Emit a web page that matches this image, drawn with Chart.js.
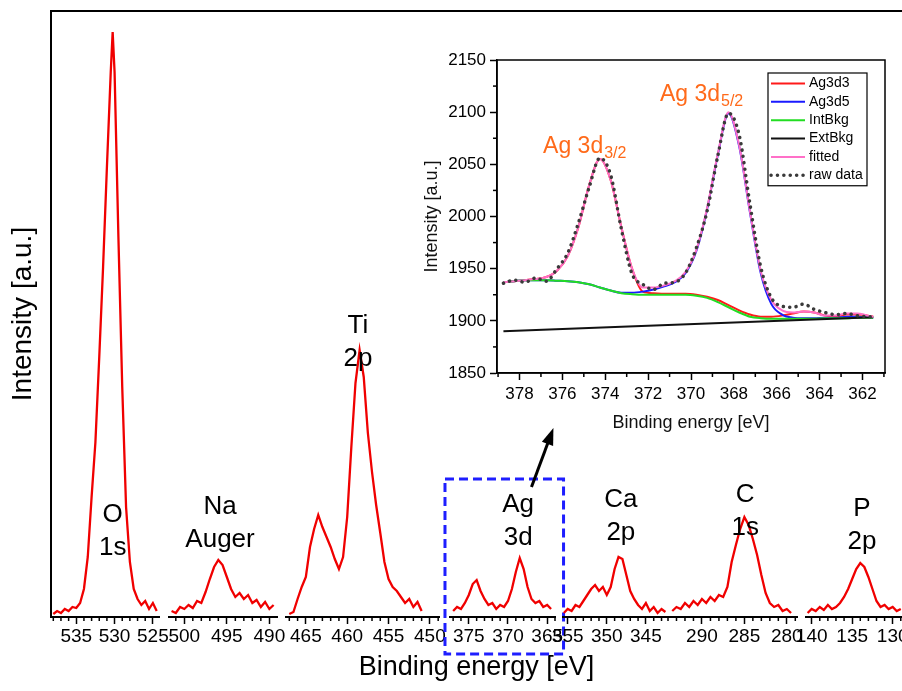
<!DOCTYPE html>
<html>
<head>
<meta charset="utf-8">
<script src="https://cdn.jsdelivr.net/npm/chart.js@4.4.0/dist/chart.umd.min.js"></script>
<style>
  html, body { margin: 0; padding: 0; background: #fff; }
  #wrap { position: relative; width: 902px; height: 691px; overflow: hidden; background: #fff; }
  #wrap canvas { position: absolute; left: 0; top: 0; }
</style>
</head>
<body>
<div id="wrap"></div>
<script>
// survey spectrum, heights above each baseline (arb. units)
const o1sEnergy = [538, 537.5, 537, 536.5, 536, 535.5, 535, 534.5, 534, 533.5, 533, 532.5, 532, 531.5, 531, 530.5, 530.25, 530, 529.5, 529, 528.5, 528, 527.5, 527, 526.5, 526, 525.5, 525, 524.5];
const o1sCounts = [3, 6, 4, 8, 6, 10, 9, 14, 28, 60, 120, 175, 260, 350, 450, 545, 585, 545, 380, 230, 110, 55, 28, 18, 12, 16, 8, 14, 6];

const naEnergy = [501.5, 501, 500.5, 500, 499.5, 499, 498.5, 498, 497.5, 497, 496.5, 496, 495.5, 495, 494.5, 494, 493.5, 493, 492.5, 492, 491.5, 491, 490.5, 490, 489.5];
const naCounts = [6, 4, 10, 8, 12, 9, 16, 14, 25, 38, 50, 57, 52, 40, 28, 20, 24, 18, 22, 14, 17, 10, 15, 8, 12];

const tiEnergy = [467, 466.5, 466, 465.5, 465, 464.5, 464, 463.5, 463, 462.5, 462, 461.5, 461, 460.5, 460, 459.5, 459, 458.5, 458, 457.5, 457, 456.5, 456, 455.5, 455, 454.5, 454, 453.5, 453, 452.5, 452, 451.5, 451];
const tiCounts = [3, 5, 18, 30, 40, 70, 88, 102, 90, 80, 70, 58, 48, 60, 100, 170, 234, 267, 240, 184, 145, 112, 84, 55, 38, 30, 26, 20, 14, 18, 10, 15, 6];

const agEnergy = [377, 376.5, 376, 375.5, 375, 374.5, 374, 373.5, 373, 372.5, 372, 371.5, 371, 370.5, 370, 369.5, 369, 368.5, 368, 367.5, 367, 366.5, 366, 365.5, 365, 364.5];
const agCounts = [6, 10, 8, 14, 22, 33, 37, 26, 18, 12, 14, 8, 12, 10, 16, 28, 45, 59, 48, 30, 18, 14, 16, 10, 12, 8];

const caEnergy = [355.5, 355, 354.5, 354, 353.5, 353, 352.5, 352, 351.5, 351, 350.5, 350, 349.5, 349, 348.5, 348, 347.5, 347, 346.5, 346, 345.5, 345, 344.5, 344, 343.5, 343, 342.5];
const caCounts = [4, 8, 6, 12, 10, 16, 22, 28, 32, 26, 30, 22, 30, 48, 60, 58, 42, 26, 18, 12, 8, 14, 6, 10, 4, 8, 5];

const cEnergy = [293.5, 293, 292.5, 292, 291.5, 291, 290.5, 290, 289.5, 289, 288.5, 288, 287.5, 287, 286.5, 286, 285.5, 285, 284.5, 284, 283.5, 283, 282.5, 282, 281.5, 281, 280.5, 280, 279.5];
const cCounts = [6, 10, 8, 14, 10, 16, 12, 18, 14, 20, 16, 22, 20, 30, 55, 72, 88, 100, 92, 78, 62, 42, 24, 14, 10, 12, 6, 8, 4];

const pEnergy = [140.5, 140, 139.5, 139, 138.5, 138, 137.5, 137, 136.5, 136, 135.5, 135, 134.5, 134, 133.5, 133, 132.5, 132, 131.5, 131, 130.5, 130, 129.5, 129];
const pCounts = [4, 8, 6, 10, 7, 12, 8, 10, 14, 20, 28, 38, 48, 54, 50, 40, 28, 16, 10, 12, 8, 10, 6, 8];

// inset: Ag 3d fit
const insetEnergy = [378.75, 378.25, 377.75, 377.25, 376.75, 376.25, 375.75, 375.25, 374.75, 374.25, 373.75, 373.25, 372.75, 372.25, 371.75, 371.25, 370.75, 370.25, 369.75, 369.25, 368.75, 368.25, 367.75, 367.25, 366.75, 366.25, 365.75, 365.25, 364.75, 364.25, 363.75, 363.25, 362.75, 362.25, 361.75, 361.5];
const ag3d3 = [1937, 1938, 1939, 1940, 1942, 1948, 1962, 1990, 2030, 2055, 2035, 1990, 1950, 1928, 1926.5, 1926, 1926, 1926, 1925, 1923, 1920, 1915, 1910, 1906, 1904, 1904, 1905, 1907, 1909, 1908, 1905, 1904, 1906, 1906, 1905, 1904];
const ag3d5 = [1937, 1938, 1939, 1939, 1939, 1938.5, 1938, 1937, 1935, 1932, 1929, 1927, 1927, 1928, 1930, 1933, 1937, 1946, 1967, 2007, 2059, 2099, 2067, 2004, 1946, 1916, 1906, 1903, 1902.5, 1902.5, 1903, 1903, 1904, 1904, 1903.5, 1903];
const intBkg = [1937, 1938, 1939, 1939, 1939, 1938.5, 1938, 1937, 1935, 1932, 1929, 1926.5, 1925.5, 1925, 1925, 1925, 1925, 1925, 1924, 1922, 1918, 1913, 1908, 1904, 1902.5, 1902, 1902, 1902, 1902, 1902, 1902.5, 1902.5, 1902.5, 1903, 1903, 1903];
const fitted = [1937, 1938, 1939, 1940, 1942, 1948, 1962, 1990, 2030, 2055, 2035, 1990, 1950, 1932, 1932, 1934, 1938, 1947, 1968, 2008, 2060, 2100, 2068, 2005, 1948, 1920, 1910, 1908, 1909, 1908, 1905, 1905, 1907, 1907, 1905, 1904];
const rawData = [1936, 1939, 1937, 1941, 1938, 1950, 1965, 1994, 2028, 2056, 2040, 1988, 1945, 1935, 1930, 1936, 1937, 1946, 1970, 2005, 2058, 2099, 2078, 2012, 1952, 1922, 1914, 1913, 1916, 1911, 1908, 1906, 1907, 1905, 1904, 1904];
const extEnergy = [378.75, 361.5];
const extBkg = [1890, 1903.5];

const FONT = "'Liberation Sans', Arial, sans-serif";
const W = 902, H = 691;
Chart.defaults.font.family = FONT;
Chart.defaults.color = '#000';
Chart.defaults.animation = false;

const wrap = document.getElementById('wrap');
function addCanvas() {
  const c = document.createElement('canvas');
  c.width = W;
  c.height = H;
  wrap.appendChild(c);
  return c.getContext('2d');
}

const toPoints = (xs, ys) => xs.map((x, i) => ({ x: x, y: ys[i] }));

// short ticks between the labelled ones
const minorTicks = {
  id: 'minorTicks',
  afterDraw(chart, args, opts) {
    const ctx = chart.ctx;
    ctx.save();
    ctx.strokeStyle = '#000';
    ctx.lineWidth = 1.5;
    Object.keys(opts.axes || {}).forEach(id => {
      const s = chart.scales[id];
      const { step, major, len } = opts.axes[id];
      const lo = Math.min(s.min, s.max), hi = Math.max(s.min, s.max);
      for (let v = Math.ceil(lo / step) * step; v <= hi; v += step) {
        if (Math.abs(v / major - Math.round(v / major)) < 1e-6) continue;
        const p = s.getPixelForValue(v);
        ctx.beginPath();
        if (s.isHorizontal()) { ctx.moveTo(p, s.top); ctx.lineTo(p, s.top + len); }
        else { ctx.moveTo(s.right - len, p); ctx.lineTo(s.right, p); }
        ctx.stroke();
      }
    });
    ctx.restore();
  }
};

const peakLabel = {
  id: 'peakLabel',
  afterDatasetsDraw(chart, args, opts) {
    const { ctx, scales: { x, y } } = chart;
    const px = x.getPixelForValue(opts.at[0]), py = y.getPixelForValue(opts.at[1]);
    ctx.save();
    ctx.font = '26px ' + FONT;
    ctx.fillStyle = '#000';
    ctx.textAlign = 'center';
    ctx.textBaseline = 'middle';
    opts.lines.forEach((t, i) => ctx.fillText(t, px, py + i * 33));
    ctx.restore();
  }
};

// dashed box round Ag 3d and the arrow to the inset
const callout = {
  id: 'callout',
  afterDraw(chart, args, opts) {
    const { ctx, scales: { x, y } } = chart;
    const l = x.getPixelForValue(opts.box[0]), r = x.getPixelForValue(opts.box[1]);
    const t = y.getPixelForValue(opts.box[2]), b = y.getPixelForValue(opts.box[3]);
    ctx.save();
    ctx.strokeStyle = '#1e1eff';
    ctx.lineWidth = 3;
    ctx.setLineDash([9, 5]);
    ctx.strokeRect(l, t, r - l, b - t);
    ctx.setLineDash([]);
    const x1 = x.getPixelForValue(opts.arrow[0]), y1 = y.getPixelForValue(opts.arrow[1]);
    const x2 = x.getPixelForValue(opts.arrow[2]), y2 = y.getPixelForValue(opts.arrow[3]);
    const ang = Math.atan2(y2 - y1, x2 - x1);
    ctx.strokeStyle = '#000';
    ctx.fillStyle = '#000';
    ctx.lineWidth = 3;
    ctx.beginPath();
    ctx.moveTo(x1, y1);
    ctx.lineTo(x2 - 12 * Math.cos(ang), y2 - 12 * Math.sin(ang));
    ctx.stroke();
    ctx.beginPath();
    ctx.moveTo(x2, y2);
    ctx.lineTo(x2 - 17 * Math.cos(ang) + 6 * Math.sin(ang), y2 - 17 * Math.sin(ang) - 6 * Math.cos(ang));
    ctx.lineTo(x2 - 17 * Math.cos(ang) - 6 * Math.sin(ang), y2 - 17 * Math.sin(ang) + 6 * Math.cos(ang));
    ctx.closePath();
    ctx.fill();
    ctx.restore();
  }
};

const boxFrame = {
  id: 'boxFrame',
  afterDatasetsDraw(chart) {
    const { ctx, chartArea: a } = chart;
    ctx.save();
    ctx.strokeStyle = '#000';
    ctx.lineWidth = 1.5;
    ctx.strokeRect(a.left, a.top, a.right - a.left, a.bottom - a.top);
    ctx.restore();
  }
};

const insetLegend = {
  id: 'insetLegend',
  afterDraw(chart, args, opts) {
    const { ctx, chartArea: a } = chart;
    const sets = chart.data.datasets;
    const x0 = a.right - opts.right - opts.width, y0 = a.top + opts.top;
    const h = (sets.length - 1) * opts.row + 21;
    ctx.save();
    ctx.fillStyle = '#fff';
    ctx.fillRect(x0, y0, opts.width, h);
    ctx.strokeStyle = '#000';
    ctx.lineWidth = 1.2;
    ctx.strokeRect(x0, y0, opts.width, h);
    ctx.font = '14px ' + FONT;
    ctx.textBaseline = 'middle';
    sets.forEach((d, i) => {
      const yy = y0 + 10.5 + i * opts.row;
      ctx.strokeStyle = d.borderColor;
      ctx.lineWidth = d.borderWidth;
      ctx.lineCap = d.borderCapStyle || 'butt';
      ctx.setLineDash(d.borderDash || []);
      ctx.beginPath();
      ctx.moveTo(x0 + 3, yy);
      ctx.lineTo(x0 + 37, yy);
      ctx.stroke();
      ctx.setLineDash([]);
      ctx.fillStyle = '#000';
      ctx.fillText(d.label, x0 + 41, yy);
    });
    ctx.restore();
  }
};

const insetNotes = {
  id: 'insetNotes',
  afterDatasetsDraw(chart, args, opts) {
    const { ctx, scales: { x, y } } = chart;
    ctx.save();
    ctx.fillStyle = '#ff6a1a';
    ctx.textAlign = 'left';
    ctx.textBaseline = 'alphabetic';
    opts.items.forEach(n => {
      const px = x.getPixelForValue(n.at[0]), py = y.getPixelForValue(n.at[1]);
      ctx.font = '23px ' + FONT;
      ctx.fillText(n.main, px, py);
      const w = ctx.measureText(n.main).width;
      ctx.font = '16px ' + FONT;
      ctx.fillText(n.sub, px + w + 1, py + 5);
    });
    ctx.restore();
  }
};

// outer frame with the two axis titles
new Chart(addCanvas(), {
  type: 'line',
  data: { datasets: [] },
  options: {
    responsive: false,
    layout: { padding: { left: 0, right: 0, top: 11, bottom: 0 } },
    plugins: { legend: { display: false }, tooltip: { enabled: false } },
    scales: {
      x: {
        type: 'linear', min: 0, max: 1, position: 'bottom',
        afterFit: s => { s.height = 74; s.paddingLeft = 0; s.paddingRight = 0; },
        border: { display: false }, grid: { display: false }, ticks: { display: false },
        title: { display: true, text: 'Binding energy [eV]', font: { size: 27 }, padding: { top: 0, bottom: 7 } }
      },
      top: {
        type: 'linear', min: 0, max: 1, position: 'top',
        afterFit: s => { s.height = 0; s.paddingLeft = 0; s.paddingRight = 0; },
        border: { color: '#000', width: 2 }, grid: { drawOnChartArea: false, drawTicks: false }, ticks: { display: false }
      },
      y: {
        type: 'linear', min: 0, max: 1, position: 'left',
        afterFit: s => { s.width = 51; },
        border: { color: '#000', width: 2 }, grid: { drawOnChartArea: false, drawTicks: false }, ticks: { display: false },
        title: { display: true, text: 'Intensity [a.u.]', font: { size: 28 }, padding: { top: 6, bottom: 0 } }
      }
    }
  }
});

// one broken-axis panel per core level
const segments = [
  { energy: o1sEnergy, counts: o1sCounts, min: 524.2, max: 538.3, left: 51, right: 159, lines: ['O', '1s'], at: [530.25, 102] },
  { energy: naEnergy, counts: naCounts, min: 489.1, max: 501.8, left: 169, right: 277, lines: ['Na', 'Auger'], at: [495.8, 110] },
  { energy: tiEnergy, counts: tiCounts, min: 448.9, max: 467.4, left: 286, right: 439, lines: ['Ti', '2p'], at: [458.7, 291] },
  { energy: agEnergy, counts: agCounts, min: 364.0, max: 377.4, left: 450, right: 555, lines: ['Ag', '3d'], at: [368.7, 112],
    callout: { box: [378.04, 362.91, 138, -37], arrow: [367.0, 130, 364.2, 189] } },
  { energy: caEnergy, counts: caCounts, min: 342.3, max: 355.6, left: 563, right: 667, lines: ['Ca', '2p'], at: [348.2, 117] },
  { energy: cEnergy, counts: cCounts, min: 278.8, max: 294.0, left: 668, right: 797, lines: ['C', '1s'], at: [284.9, 122] },
  { energy: pEnergy, counts: pCounts, min: 128.85, max: 140.7, left: 806, right: 902, lines: ['P', '2p'], at: [133.8, 108] }
];

segments.forEach(seg => {
  const plugins = [minorTicks, peakLabel];
  if (seg.callout) plugins.push(callout);
  new Chart(addCanvas(), {
    type: 'line',
    data: {
      datasets: [{
        data: toPoints(seg.energy, seg.counts),
        borderColor: '#f00000',
        borderWidth: 2.3,
        pointRadius: 0,
        tension: 0
      }]
    },
    options: {
      responsive: false,
      layout: { padding: { left: seg.left, right: W - seg.right, top: 11, bottom: 34 } },
      plugins: {
        legend: { display: false },
        tooltip: { enabled: false },
        minorTicks: { axes: { x: { step: 1, major: 5, len: 4 } } },
        peakLabel: { lines: seg.lines, at: seg.at },
        callout: seg.callout || {}
      },
      scales: {
        x: {
          type: 'linear', reverse: true, min: seg.min, max: seg.max,
          afterFit: s => { s.height = 40; s.paddingLeft = 0; s.paddingRight = 0; },
          border: { color: '#000', width: 2 },
          grid: { drawOnChartArea: false, tickLength: 7, tickColor: '#000', tickWidth: 1.5 },
          ticks: { stepSize: 5, includeBounds: false, autoSkip: false, maxRotation: 0, padding: 1,
                   font: { size: 19 }, color: '#000', callback: v => String(v) }
        },
        y: { display: false, min: 0, max: 606 }
      }
    },
    plugins: plugins
  });
});

// inset
new Chart(addCanvas(), {
  type: 'line',
  data: {
    datasets: [
      { label: 'Ag3d3', data: toPoints(insetEnergy, ag3d3), borderColor: '#ff1a1a', borderWidth: 2, order: 5 },
      { label: 'Ag3d5', data: toPoints(insetEnergy, ag3d5), borderColor: '#1a1aff', borderWidth: 2, order: 4 },
      { label: 'IntBkg', data: toPoints(insetEnergy, intBkg), borderColor: '#22dd22', borderWidth: 2, order: 3 },
      { label: 'ExtBkg', data: toPoints(extEnergy, extBkg), borderColor: '#111111', borderWidth: 2, order: 2 },
      { label: 'fitted', data: toPoints(insetEnergy, fitted), borderColor: '#ff70c8', borderWidth: 2, order: 1 },
      { label: 'raw data', data: toPoints(insetEnergy, rawData), borderColor: '#3a3a3a', borderWidth: 3.5,
        borderDash: [0.1, 6.3], borderCapStyle: 'round', order: 0 }
    ].map(d => Object.assign({ pointRadius: 0, cubicInterpolationMode: 'monotone' }, d))
  },
  options: {
    responsive: false,
    layout: { padding: { left: 417, right: 17, top: 60, bottom: 256 } },
    plugins: {
      legend: { display: false },
      tooltip: { enabled: false },
      minorTicks: { axes: { x: { step: 1, major: 2, len: 4 }, y: { step: 25, major: 50, len: 4 } } },
      insetLegend: { width: 99, top: 13, right: 18, row: 18.35 },
      insetNotes: { items: [
        { main: 'Ag 3d', sub: '5/2', at: [371.45, 2111] },
        { main: 'Ag 3d', sub: '3/2', at: [376.9, 2061] }
      ] }
    },
    scales: {
      x: {
        type: 'linear', reverse: true, min: 360.95, max: 379.05,
        afterFit: s => { s.height = 62; s.paddingLeft = 0; s.paddingRight = 0; },
        border: { color: '#000', width: 1.5 },
        grid: { drawOnChartArea: false, tickLength: 7, tickColor: '#000', tickWidth: 1.5 },
        ticks: { stepSize: 2, includeBounds: false, autoSkip: false, maxRotation: 0, padding: 4,
                 font: { size: 17 }, color: '#000', callback: v => String(v) },
        title: { display: true, text: 'Binding energy [eV]', font: { size: 18 }, color: '#111', padding: { top: 0, bottom: 1 } }
      },
      y: {
        type: 'linear', min: 1850, max: 2150,
        afterFit: s => { s.width = 80; },
        border: { color: '#000', width: 1.5 },
        grid: { drawOnChartArea: false, tickLength: 7, tickColor: '#000', tickWidth: 1.5 },
        ticks: { stepSize: 50, autoSkip: false, padding: 4, font: { size: 17 }, color: '#000', callback: v => String(v) },
        title: { display: true, text: 'Intensity [a.u.]', font: { size: 18 }, color: '#111', padding: { top: 4, bottom: 0 } }
      }
    }
  },
  plugins: [minorTicks, boxFrame, insetLegend, insetNotes]
});
</script>
</body>
</html>
